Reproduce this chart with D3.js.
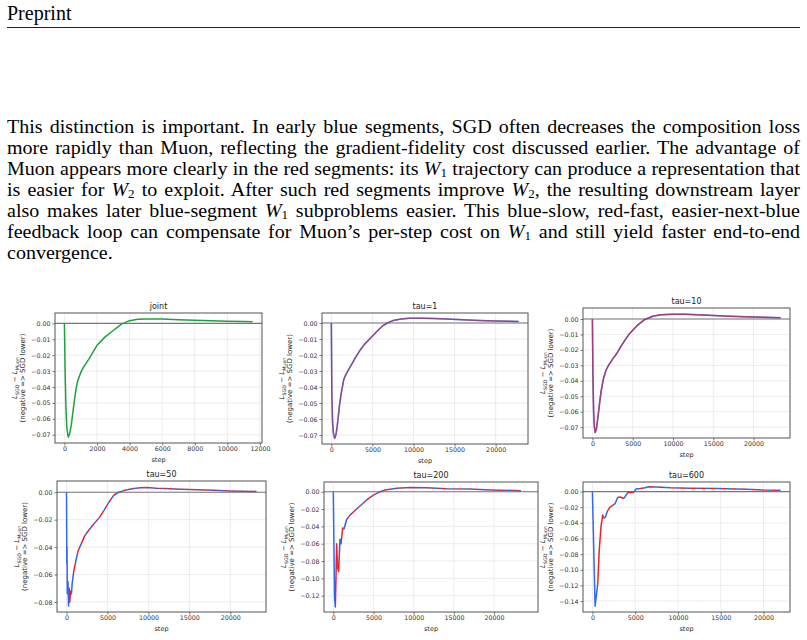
<!DOCTYPE html>
<html>
<head>
<meta charset="utf-8">
<script src="https://cdn.jsdelivr.net/npm/d3@7"></script>
<style>
body { margin: 0; background: #fff; width: 807px; height: 640px; overflow: hidden; position: relative; }
.hdr { position: absolute; left: 7px; top: 3px; font-family: "Liberation Serif", serif; font-size: 20px; line-height: 21px; }
.rule { position: absolute; left: 7px; top: 26.5px; width: 793px; height: 1.3px; background: #222; }
.ln { position: absolute; left: 7px; width: 793px; font-family: "Liberation Serif", serif; font-size: 20px; line-height: 21px;
      white-space: nowrap; text-align: justify; text-align-last: justify; color: #000;
      transform: scaleY(0.92); transform-origin: 50% 60%; }
.ln.last { text-align-last: left; }
.ln sub { font-size: 13px; vertical-align: -3px; line-height: 0; }
svg { position: absolute; left: 0; top: 0; }
svg text { font-family: "DejaVu Sans", sans-serif; fill: #222; }
</style>
</head>
<body>
<script>
// ---- text of the page ----
const header = "Preprint";
const paragraph = [
  "This distinction is important.  In early blue segments, SGD often decreases the composition loss",
  "more rapidly than Muon, reflecting the gradient-fidelity cost discussed earlier.  The advantage of",
  "Muon appears more clearly in the red segments: its W_1 trajectory can produce a representation that",
  "is easier for W_2 to exploit.  After such red segments improve W_2, the resulting downstream layer",
  "also makes later blue-segment W_1 subproblems easier.  This blue-slow, red-fast, easier-next-blue",
  "feedback loop can compensate for Muon\u2019s per-step cost on W_1 and still yield faster end-to-end",
  "convergence."
];

// ---- chart data (step, L_SGD - L_Muon) ----
const titles = ["joint", "tau=1", "tau=10", "tau=50", "tau=200", "tau=600"];
const taus = [null, 1, 10, 50, 200, 600];

const jointStep = [0, 40, 90, 150, 230, 320, 420, 520, 620, 720, 820, 1000, 1200, 1500, 2000, 2500, 3000, 3500, 4000, 4500, 5000, 6000, 7000, 8000, 9000, 10000, 11000, 11550];
const jointLoss = [0, -0.028, -0.052, -0.066, -0.0715, -0.0695, -0.064, -0.056, -0.048, -0.041, -0.036, -0.031, -0.027, -0.0225, -0.0138, -0.0085, -0.0045, -0.0005, 0.0017, 0.0026, 0.0028, 0.0027, 0.0023, 0.002, 0.0016, 0.0013, 0.0011, 0.001];

const tau1Step = [0, 60, 150, 250, 400, 550, 700, 850, 1000, 1200, 1500, 1700, 2000, 2500, 3000, 3500, 4000, 4750, 5500, 6200, 6800, 7500, 8500, 9500, 11000, 12500, 14000, 16000, 18000, 20000, 22800];
const tau1Loss = [0, -0.045, -0.062, -0.069, -0.072, -0.07, -0.065, -0.058, -0.051, -0.044, -0.0355, -0.033, -0.03, -0.0255, -0.021, -0.017, -0.0135, -0.0095, -0.0055, -0.002, 0, 0.0015, 0.0025, 0.003, 0.003, 0.0028, 0.0025, 0.002, 0.0015, 0.0012, 0.001];

const tau10Step = [0, 60, 150, 250, 350, 500, 700, 900, 1100, 1400, 1700, 2000, 2500, 3000, 3500, 4000, 4600, 5500, 6500, 7500, 8500, 10000, 11500, 13000, 15000, 17000, 19000, 21000, 23350];
const tau10Loss = [0, -0.035, -0.06, -0.07, -0.0735, -0.071, -0.063, -0.054, -0.046, -0.038, -0.033, -0.03, -0.026, -0.0225, -0.018, -0.014, -0.0095, -0.0045, -0.0003, 0.0018, 0.0027, 0.003, 0.003, 0.0027, 0.0022, 0.0018, 0.0014, 0.0011, 0.0008];

const tau50Step = [0, 40, 60, 100, 180, 250, 330, 400, 500, 600, 700, 900, 1150, 1400, 1770, 2200, 2600, 3200, 4000, 4600, 5200, 5800, 6400, 7000, 8000, 9000, 9800, 11000, 12000, 14000, 16000, 18000, 20000, 23200];
const tau50Loss = [0, -0.052, -0.04, -0.074, -0.065, -0.083, -0.07, -0.08, -0.072, -0.074, -0.066, -0.057, -0.05, -0.043, -0.038, -0.032, -0.0286, -0.024, -0.0185, -0.013, -0.007, -0.002, 0, 0.0012, 0.0025, 0.0032, 0.0034, 0.003, 0.0028, 0.0022, 0.0018, 0.0014, 0.001, 0.0006];

const tau200Step = [0, 150, 250, 330, 415, 540, 660, 830, 955, 1160, 1330, 1660, 2075, 2900, 3730, 4360, 4980, 5600, 6430, 7880, 9540, 11600, 14100, 17000, 19500, 23350];
const tau200Loss = [0, -0.122, -0.133, -0.1, -0.06, -0.088, -0.092, -0.055, -0.06, -0.042, -0.043, -0.032, -0.027, -0.02, -0.013, -0.008, -0.004, -0.001, 0.002, 0.004, 0.0048, 0.0045, 0.0035, 0.003, 0.002, 0.0012];

const tau600Step = [0, 312, 620, 800, 1000, 1200, 1350, 1500, 1750, 2050, 2450, 2650, 2950, 3250, 3550, 3750, 4150, 4400, 4800, 5100, 5600, 6150, 6550, 7500, 9100, 11400, 14500, 18000, 20000, 22000];
const tau600Loss = [0, -0.1466, -0.118, -0.075, -0.045, -0.03, -0.034, -0.033, -0.025, -0.02, -0.017, -0.0155, -0.0075, -0.0068, -0.0085, -0.0078, -0.001, -0.0009, -0.001, 0.0034, 0.004, 0.005, 0.0063, 0.006, 0.005, 0.0043, 0.004, 0.003, 0.002, 0.0017];

// ---- tick values ----
const xTicksJoint = [0, 2000, 4000, 6000, 8000, 10000, 12000];
const xTicksTau = [0, 5000, 10000, 15000, 20000];
const yTicks07 = [0, -0.01, -0.02, -0.03, -0.04, -0.05, -0.06, -0.07];
const yTicks08 = [0, -0.02, -0.04, -0.06, -0.08];
const yTicks12 = [0, -0.02, -0.04, -0.06, -0.08, -0.10, -0.12];
const yTicks14 = [0, -0.02, -0.04, -0.06, -0.08, -0.10, -0.12, -0.14];

// ---- page text ----
const body = d3.select("body");
body.append("div").attr("class", "hdr").text(header);
body.append("div").attr("class", "rule");
paragraph.forEach((line, i) => {
  body.append("div")
    .attr("class", i === paragraph.length - 1 ? "ln last" : "ln")
    .style("top", (116 + 21 * i) + "px")
    .html(line.replace(/W_(\d)/g, "<i>W</i><sub>$1</sub>"));
});

// ---- charts ----
const blue = "#3068f0", red = "#e8232b", green = "#1fa040";

const panels = [
  { steps: jointStep, vals: jointLoss, box: [55, 313, 262, 443], xLim: [-578, 12128], yLim: [-0.0752, 0.0065], xt: xTicksJoint, yt: yTicks07 },
  { steps: tau1Step, vals: tau1Loss, box: [322, 313, 528, 444], xLim: [-1140, 23940], yLim: [-0.0756, 0.00625], xt: xTicksTau, yt: yTicks07 },
  { steps: tau10Step, vals: tau10Loss, box: [583, 308, 790, 438], xLim: [-1168, 24518], yLim: [-0.077, 0.0071], xt: xTicksTau, yt: yTicks07 },
  { steps: tau50Step, vals: tau50Loss, box: [57, 481, 266, 612], xLim: [-1160, 24360], yLim: [-0.0873, 0.0082], xt: xTicksTau, yt: yTicks08 },
  { steps: tau200Step, vals: tau200Loss, box: [324, 482, 538, 612], xLim: [-1160, 25460], yLim: [-0.1388, 0.0112], xt: xTicksTau, yt: yTicks12 },
  { steps: tau600Step, vals: tau600Loss, box: [583, 482, 790, 612], xLim: [-1100, 23100], yLim: [-0.154, 0.0123], xt: xTicksTau, yt: yTicks14 }
];

const svg = body.append("svg").attr("width", 807).attr("height", 640);
const defs = svg.append("defs");

panels.forEach((p, i) => {
  const [l, t, r, b] = p.box;
  const x = d3.scaleLinear().domain(p.xLim).range([l, r]);
  const y = d3.scaleLinear().domain(p.yLim).range([b, t]);
  const g = svg.append("g");
  const pts = p.steps.map((s, k) => [s, p.vals[k]]);

  // grid
  g.append("g").selectAll("line").data(p.xt).join("line")
    .attr("x1", d => x(d)).attr("x2", d => x(d)).attr("y1", t).attr("y2", b)
    .attr("stroke", "#e8e8e8").attr("stroke-width", 0.8);
  g.append("g").selectAll("line").data(p.yt).join("line")
    .attr("x1", l).attr("x2", r).attr("y1", d => y(d)).attr("y2", d => y(d))
    .attr("stroke", "#e8e8e8").attr("stroke-width", 0.8);

  // axes
  const xa = g.append("g").attr("transform", `translate(0,${b})`)
    .call(d3.axisBottom(x).tickValues(p.xt).tickFormat(d3.format("d")).tickSize(2.5).tickPadding(1.5));
  const ya = g.append("g").attr("transform", `translate(${l},0)`)
    .call(d3.axisLeft(y).tickValues(p.yt).tickFormat(d3.format(".2f")).tickSize(2.5).tickPadding(2));
  [xa, ya].forEach(a => {
    a.select(".domain").remove();
    a.selectAll("line").attr("stroke", "#555").attr("stroke-width", 0.8);
    a.selectAll("text").style("font-size", "6.3px").style("fill", "#333").attr("font-family", null);
  });

  // zero line
  g.append("line").attr("x1", l).attr("x2", r).attr("y1", y(0)).attr("y2", y(0))
    .attr("stroke", "#777").attr("stroke-width", 1.1);

  // curve: alternating blue / red segments every tau steps
  const line = d3.line().x(d => x(d[0])).y(d => y(d[1]));
  const tau = taus[i];
  const last = p.steps[p.steps.length - 1];
  if (tau === null) {
    g.append("path").datum(pts).attr("d", line).attr("fill", "none")
      .attr("stroke", green).attr("stroke-width", 1.5).attr("stroke-linejoin", "round");
  } else if (tau * (r - l) / (p.xLim[1] - p.xLim[0]) < 0.2) {
    // segments narrower than a pixel blend into one colour
    g.append("path").datum(pts).attr("d", line).attr("fill", "none")
      .attr("stroke", blue).attr("stroke-width", 1.5).attr("stroke-linejoin", "round");
    g.append("path").datum(pts).attr("d", line).attr("fill", "none")
      .attr("stroke", red).attr("stroke-opacity", tau === 1 ? 0.45 : 0.6)
      .attr("stroke-width", 1.5).attr("stroke-linejoin", "round");
  } else {
    const segs = d3.range(0, Math.ceil(last / tau));
    const stops = [];
    segs.forEach(k => {
      const c = k % 2 === 0 ? blue : red;
      stops.push({ o: k * tau / last, c: c });
      stops.push({ o: Math.min((k + 1) * tau / last, 1), c: c });
    });
    const gid = "seg" + i;
    defs.append("linearGradient").attr("id", gid)
      .attr("gradientUnits", "userSpaceOnUse")
      .attr("x1", x(0)).attr("x2", x(last)).attr("y1", 0).attr("y2", 0)
      .selectAll("stop").data(stops).join("stop")
      .attr("offset", d => d.o).attr("stop-color", d => d.c);
    g.append("path").datum(pts).attr("d", line).attr("fill", "none")
      .attr("stroke", `url(#${gid})`).attr("stroke-width", 1.5).attr("stroke-linejoin", "round");
  }

  // frame
  g.append("rect").attr("x", l).attr("y", t).attr("width", r - l).attr("height", b - t)
    .attr("fill", "none").attr("stroke", "#555").attr("stroke-width", 1);

  // title and labels
  g.append("text").attr("x", (l + r) / 2).attr("y", t - 4).attr("text-anchor", "middle")
    .style("font-size", "8px").text(titles[i]);
  g.append("text").attr("x", (l + r) / 2).attr("y", b + 18.5).attr("text-anchor", "middle")
    .style("font-size", "6.5px").text("step");

  const cy = (t + b) / 2;
  const t1 = g.append("text").attr("transform", `translate(${l - 40},${cy}) rotate(-90)`)
    .attr("text-anchor", "middle").attr("dominant-baseline", "central").style("font-size", "7px");
  t1.append("tspan").attr("font-style", "italic").text("L");
  t1.append("tspan").style("font-size", "4.8px").attr("dy", 1.5).text("SGD");
  t1.append("tspan").attr("dy", -1.5).text(" \u2212 ");
  t1.append("tspan").attr("font-style", "italic").text("L");
  t1.append("tspan").style("font-size", "4.8px").attr("dy", 1.5).text("Muon");
  g.append("text").attr("transform", `translate(${l - 31.7},${cy}) rotate(-90)`)
    .attr("text-anchor", "middle").attr("dominant-baseline", "central").style("font-size", "7px")
    .text("(negative => SGD lower)");
});
</script>
</body>
</html>
